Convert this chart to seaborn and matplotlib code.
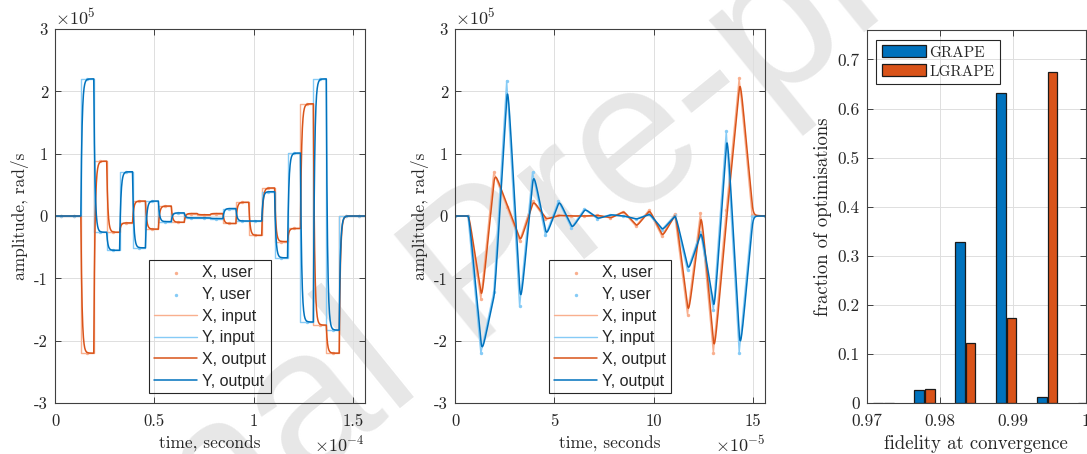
import numpy as np
import pandas as pd
import seaborn as sns
import matplotlib.pyplot as plt
from matplotlib.ticker import ScalarFormatter, FuncFormatter
from matplotlib.patches import Patch

# ---- data (amplitudes in units of 1e5 rad/s) ----
seg_dt = 6.5e-6          # length of one control interval, s
amp_unit = 1e5

# piecewise-constant pulse, one value per interval
pc_x = [0, 0, -2.20, 0.88, -0.26, -0.11, 0.24, -0.21, 0.16, -0.10, 0.04, 0.02,
        0.04, -0.12, 0.22, -0.31, 0.45, -0.41, -0.20, 1.80, -1.75, -2.20, 0, 0]
pc_y = [0, 0, 2.20, -0.26, -0.55, 0.71, -0.51, 0.24, -0.09, 0.05, -0.03, -0.03,
        -0.04, 0.12, -0.08, -0.08, 0.39, -0.67, 1.01, -1.70, 2.20, -1.83, 0, 0]

# piecewise-linear pulse, one value per knot
pl_x = [0, 0, -1.33, 0.70, 0.15, -0.40, 0.24, -0.05, 0.01, 0.00, 0.00, 0.01, -0.03,
        0.07, -0.16, 0.09, -0.32, 0.03, -1.58, 0.05, -2.19, 0.10, 2.21, 0.01, 0]
pl_y = [0, 0, -2.20, -1.22, 2.17, -1.45, 0.70, -0.31, 0.24, -0.19, 0.11, -0.04, 0.02,
        0.00, -0.05, 0.03, -0.22, 0.01, -0.87, -0.25, -1.51, 1.36, -2.19, 0.00, 0]

# response time constants of the output stage
tau_pc = 0.6e-6
tau_pl = 0.58e-6

# histogram of fidelities
fid_bins = [0.9723, 0.9779, 0.9835, 0.9891, 0.9947, 1.0003]
frac_grape = [0, 0.027, 0.329, 0.631, 0.013, 0]
frac_lgrape = [0, 0.028, 0.122, 0.174, 0.675, 0]

c_x, c_y = '#D95319', '#0072BD'
c_xl, c_yl = '#F9AF8E', '#86CBF6'


def resp_const(vals, tau, n=60):
    t, y, y0 = [], [], 0.0
    for k, u in enumerate(vals):
        tt = np.linspace(0, seg_dt, n, endpoint=False)
        yy = u + (y0 - u) * np.exp(-tt / tau)
        t.append(k * seg_dt + tt)
        y.append(yy)
        y0 = u + (y0 - u) * np.exp(-seg_dt / tau)
    return np.concatenate(t + [[len(vals) * seg_dt]]), np.concatenate(y + [[y0]])


def resp_linear(vals, tau, n=60):
    t, y, y0 = [], [], 0.0
    for k in range(len(vals) - 1):
        a, b = vals[k], (vals[k + 1] - vals[k]) / seg_dt
        tt = np.linspace(0, seg_dt, n, endpoint=False)
        yy = a + b * tt - b * tau + (y0 - a + b * tau) * np.exp(-tt / tau)
        t.append(k * seg_dt + tt)
        y.append(yy)
        y0 = a + b * seg_dt - b * tau + (y0 - a + b * tau) * np.exp(-seg_dt / tau)
    return np.concatenate(t + [[(len(vals) - 1) * seg_dt]]), np.concatenate(y + [[y0]])


class Sci(ScalarFormatter):
    def __init__(self, order):
        super().__init__(useMathText=True)
        self.set_powerlimits((order, order))

    def __call__(self, x, pos=None):
        v = round(x / 10 ** self.orderOfMagnitude, 6) + 0.0
        return '%g' % v


sns.set_theme(style='whitegrid', rc={
    'axes.edgecolor': '#404040', 'axes.linewidth': 0.8,
    'grid.color': '#DEDEDE', 'grid.linewidth': 0.7,
    'xtick.bottom': True, 'ytick.left': True, 'xtick.top': True, 'ytick.right': True,
    'xtick.direction': 'in', 'ytick.direction': 'in',
    'xtick.major.size': 4, 'ytick.major.size': 4,
    'xtick.major.width': 0.6, 'ytick.major.width': 0.6,
    'xtick.major.pad': 8, 'ytick.major.pad': 5,
    'xtick.color': '#262626', 'ytick.color': '#262626',
    'xtick.labelsize': 12, 'ytick.labelsize': 12,
    'axes.labelsize': 12.5, 'axes.labelcolor': '#262626',
    'axes.facecolor': 'none', 'figure.facecolor': 'white',
})
plt.rcParams['font.family'] = 'cmr10'
plt.rcParams['mathtext.fontset'] = 'cm'
plt.rcParams['axes.unicode_minus'] = False
plt.rcParams['axes.formatter.use_mathtext'] = True

fig = plt.figure(figsize=(10.87, 4.54), dpi=100)
ax1 = fig.add_axes([0.0506, 0.1123, 0.2852, 0.8238])
ax2 = fig.add_axes([0.4186, 0.1123, 0.2852, 0.8238])
ax3 = fig.add_axes([0.7972, 0.1123, 0.2020, 0.8216])

fig.text(0.445, 0.40, 'Journal Pre-proof', rotation=39, fontsize=146,
         family='Liberation Sans', color='#E7E7E7', ha='center', va='center', zorder=-1)

legend_order = ['X, user', 'Y, user', 'X, input', 'Y, input', 'X, output', 'Y, output']

# ---- left: piecewise constant ----
edges = np.arange(len(pc_x) + 1) * seg_dt
mids = (np.arange(len(pc_x)) + 0.5) * seg_dt
sx = np.array(pc_x + [pc_x[-1]]) * amp_unit
sy = np.array(pc_y + [pc_y[-1]]) * amp_unit
sns.lineplot(x=edges, y=sx, drawstyle='steps-post', color=c_xl, lw=1.0, estimator=None,
             label='X, input', ax=ax1)
sns.lineplot(x=edges, y=sy, drawstyle='steps-post', color=c_yl, lw=1.0, estimator=None,
             label='Y, input', ax=ax1)
tx, ox = resp_const(pc_x, tau_pc)
ty, oy = resp_const(pc_y, tau_pc)
sns.lineplot(x=tx, y=ox * amp_unit, color=c_x, lw=1.1, estimator=None, sort=False,
             label='X, output', ax=ax1)
sns.lineplot(x=ty, y=oy * amp_unit, color=c_y, lw=1.1, estimator=None, sort=False,
             label='Y, output', ax=ax1)
sns.scatterplot(x=mids, y=np.array(pc_x) * amp_unit, color=c_xl, s=6, linewidth=0,
                label='X, user', ax=ax1)
sns.scatterplot(x=mids, y=np.array(pc_y) * amp_unit, color=c_yl, s=6, linewidth=0,
                label='Y, user', ax=ax1)
ax1.set_xticks([0, 0.5e-4, 1e-4, 1.5e-4])
ax1.xaxis.set_major_formatter(Sci(-4))

# ---- middle: piecewise linear ----
knots = np.arange(len(pl_x)) * seg_dt
sns.lineplot(x=knots, y=np.array(pl_x) * amp_unit, color=c_xl, lw=1.0, estimator=None,
             label='X, input', ax=ax2)
sns.lineplot(x=knots, y=np.array(pl_y) * amp_unit, color=c_yl, lw=1.0, estimator=None,
             label='Y, input', ax=ax2)
tx, ox = resp_linear(pl_x, tau_pl)
ty, oy = resp_linear(pl_y, tau_pl)
sns.lineplot(x=tx, y=ox * amp_unit, color=c_x, lw=1.1, estimator=None, sort=False,
             label='X, output', ax=ax2)
sns.lineplot(x=ty, y=oy * amp_unit, color=c_y, lw=1.1, estimator=None, sort=False,
             label='Y, output', ax=ax2)
sns.scatterplot(x=knots, y=np.array(pl_x) * amp_unit, color=c_xl, s=6, linewidth=0,
                label='X, user', ax=ax2)
sns.scatterplot(x=knots, y=np.array(pl_y) * amp_unit, color=c_yl, s=6, linewidth=0,
                label='Y, user', ax=ax2)
ax2.set_xticks([0, 5e-5, 10e-5, 15e-5])
ax2.xaxis.set_major_formatter(Sci(-5))

for ax in (ax1, ax2):
    ax.set_xlim(0, len(pc_x) * seg_dt)
    ax.set_ylim(-3 * amp_unit, 3 * amp_unit)
    ax.set_yticks(np.arange(-3, 4) * amp_unit)
    ax.yaxis.set_major_formatter(Sci(5))
    ax.yaxis.get_offset_text().set_fontsize(13)
    ax.xaxis.get_offset_text().set_fontsize(13)
    ax.set_xlabel('time, seconds', labelpad=4.5)
    ax.set_ylabel('amplitude, rad/s')
    ax.set_axisbelow(True)
    h, l = ax.get_legend_handles_labels()
    hd = dict(zip(l, h))
    ax.legend([hd[k] for k in legend_order], legend_order, loc='lower center',
              prop={'family': 'Liberation Sans', 'size': 11.5}, frameon=True, fancybox=False,
              edgecolor='#262626', framealpha=1, borderaxespad=0.6, labelspacing=0.42,
              handlelength=2.7, handletextpad=0.3, borderpad=0.3, scatterpoints=1)
    ax.get_legend().get_frame().set_linewidth(0.8)

# ---- right: fidelity histogram ----
df = pd.DataFrame({
    'fidelity': fid_bins * 2,
    'fraction': frac_grape + frac_lgrape,
    'method': ['GRAPE'] * len(fid_bins) + ['LGRAPE'] * len(fid_bins),
})
sns.barplot(data=df, x='fidelity', y='fraction', hue='method', native_scale=True,
            palette=[c_y, c_x], saturation=1, width=0.52, gap=0.1, errorbar=None,
            edgecolor='#1A1A1A', linewidth=0.9, ax=ax3)
ax3.set_xlim(0.97, 1.0)
ax3.set_ylim(0, 0.76)
ax3.set_xticks([0.97, 0.98, 0.99, 1.0])
ax3.set_yticks(np.arange(0, 0.71, 0.1))
g_fmt = FuncFormatter(lambda v, p: '%g' % round(v, 6))
ax3.xaxis.set_major_formatter(g_fmt)
ax3.yaxis.set_major_formatter(g_fmt)
ax3.tick_params(labelsize=12.5)
ax3.set_xlabel('fidelity at convergence', fontsize=13.5, labelpad=4)
ax3.set_ylabel('fraction of optimisations', fontsize=13.5)
ax3.set_axisbelow(True)
bar_handles = [Patch(facecolor=c_y, edgecolor='#1A1A1A', lw=0.9),
               Patch(facecolor=c_x, edgecolor='#1A1A1A', lw=0.9)]
lg = ax3.legend(bar_handles, ['GRAPE', 'LGRAPE'], loc='upper left', fontsize=11,
                frameon=True, fancybox=False, edgecolor='#262626', framealpha=1,
                borderaxespad=0.65, handlelength=2.9, handleheight=0.85,
                handletextpad=0.2, labelspacing=0.3, borderpad=0.35)
lg.get_frame().set_linewidth(0.8)

fig.savefig('out.png', dpi=100)
